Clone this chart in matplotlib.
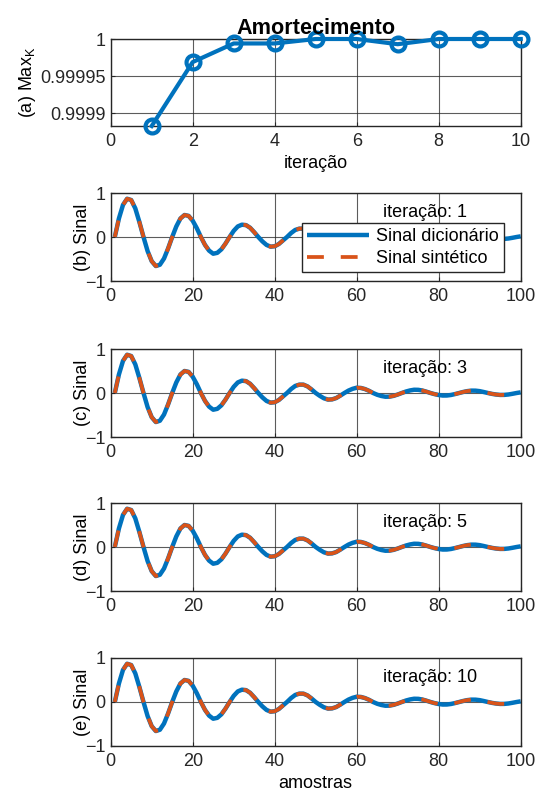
import matplotlib.pyplot as plt
import numpy as np

plt.rcParams['font.family'] = ['Liberation Sans', 'DejaVu Sans']
plt.rcParams['font.size'] = 13
plt.rcParams['mathtext.fontset'] = 'custom'
plt.rcParams['mathtext.rm'] = 'Liberation Sans'

# dados
iteracoes = [1, 2, 3, 4, 5, 6, 7, 8, 9, 10]
max_k = [0.999883, 0.999969, 0.999994, 0.999994, 1.0, 1.0, 0.999993, 1.0, 1.0, 1.0]

amostras = np.arange(1, 101)
sinal_dicionario = [
    0, 0.42, 0.73, 0.87, 0.84, 0.65, 0.34,
    0, -0.32, -0.55, -0.66, -0.63, -0.49, -0.26,
    0, 0.24, 0.42, 0.50, 0.48, 0.37, 0.20,
    0, -0.18, -0.31, -0.38, -0.36, -0.28, -0.15,
    0, 0.14, 0.24, 0.28, 0.27, 0.21, 0.11,
    0, -0.10, -0.18, -0.22, -0.21, -0.16, -0.08,
    0, 0.09, 0.16, 0.19, 0.19, 0.15, 0.08,
    0, -0.065, -0.12, -0.15, -0.145, -0.115, -0.06,
    0, 0.055, 0.095, 0.12, 0.115, 0.09, 0.05,
    0, -0.04, -0.068, -0.085, -0.083, -0.065, -0.035,
    0, 0.033, 0.058, 0.074, 0.072, 0.057, 0.03,
    0, -0.026, -0.046, -0.058, -0.057, -0.045, -0.024,
    0, 0.024, 0.043, 0.054, 0.053, 0.042, 0.022,
    0, -0.02, -0.035, -0.044, -0.043, -0.034, -0.018,
    0, 0.015,
]
sinal_sintetico = list(sinal_dicionario)

iter_mostradas = [1, 3, 5, 10]
letras = ['b', 'c', 'd', 'e']

azul = '#0072BD'
laranja = '#D95319'
W, H = 537, 798


def estilo(ax):
    ax.grid(True, color='#262626', alpha=0.75, linewidth=0.8)
    ax.set_axisbelow(True)
    for s in ax.spines.values():
        s.set_color('#262626')
        s.set_linewidth(1.0)
    ax.tick_params(direction='in', length=3, colors='#262626', labelcolor='#262626')
    ax.tick_params(axis='x', pad=5)


fig = plt.figure(figsize=(W / 100, H / 100), dpi=100)

left = 110.7 / W
width = (520.7 - 110.7) / W

# (a)
ax = fig.add_axes([left, 1 - 126 / H, width, 87 / H])
estilo(ax)
ax.plot(iteracoes, max_k, color=azul, linewidth=3, marker='o', markersize=10,
        markerfacecolor='none', markeredgewidth=3, clip_on=False, zorder=3)
ax.set_xlim(0, 10)
ax.set_ylim(min(max_k), max(max_k))
ax.set_xticks([0, 2, 4, 6, 8, 10])
ax.set_yticks([0.9999, 0.99995, 1.0])
ax.set_yticklabels(['0.9999', '0.99995', '1'])
ax.set_xlabel('iteração', labelpad=4)
ax.set_ylabel('(a) Max$_\\mathrm{K}$', labelpad=2)
ax.set_title('Amortecimento', fontweight='bold', pad=2)

tops = [193, 349, 503, 658]
for i, (it, le) in enumerate(zip(iter_mostradas, letras)):
    top = tops[i]
    ax = fig.add_axes([left, 1 - (top + 88) / H, width, 88 / H])
    estilo(ax)
    ax.plot(amostras, sinal_dicionario, color=azul, linewidth=3.2,
            label='Sinal dicionário', solid_capstyle='butt')
    ax.plot(amostras, sinal_sintetico, color=laranja, linewidth=2.7,
            linestyle=(0, (4.5, 4.5)), label='Sinal sintético')
    ax.set_xlim(0, 100)
    ax.set_ylim(-1, 1)
    ax.set_xticks([0, 20, 40, 60, 80, 100])
    ax.set_yticks([-1, 0, 1])
    ax.set_ylabel(f'({le}) Sinal', labelpad=-4)
    ax.text(66.5, 0.55, f'iteração: {it}', ha='left', va='center')
    if i == 0:
        leg = ax.legend(loc='upper right', bbox_to_anchor=(0.959, 0.66),
                        borderaxespad=0, fancybox=False, framealpha=1,
                        edgecolor='#262626', handlelength=3.4,
                        borderpad=0.3, labelspacing=0.25, handletextpad=0.4)
        leg.get_frame().set_linewidth(1.0)
    if i == len(iter_mostradas) - 1:
        ax.set_xlabel('amostras', labelpad=4)

fig.savefig('out.png', dpi=100)
